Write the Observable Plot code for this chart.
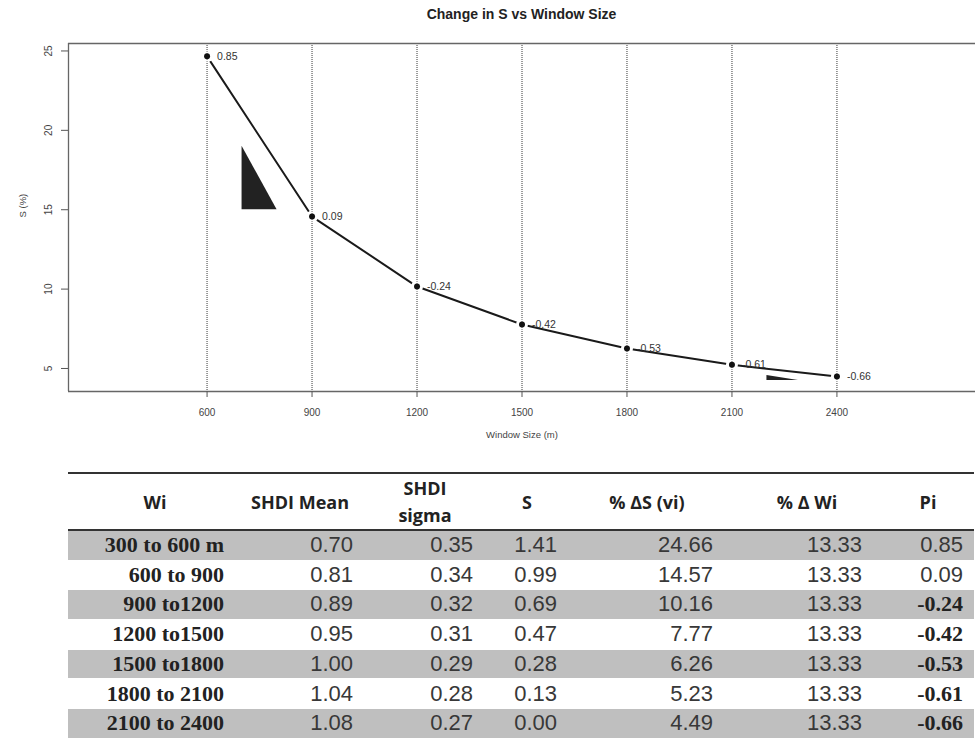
<!DOCTYPE html>
<html>
<head>
<meta charset="utf-8">
<script src="https://cdn.jsdelivr.net/npm/d3@7"></script>
<script src="https://cdn.jsdelivr.net/npm/@observablehq/plot@0.6"></script>
<style>
  html, body { margin: 0; padding: 0; background: #fff; }
  #wrap { position: relative; width: 975px; height: 739px; overflow: hidden; background: #fff; }
  #title { position: absolute; top: 6px; left: 0; width: 1043px; text-align: center;
           font: bold 14px "Liberation Sans", Arial, sans-serif; color: #222; }
  #chart { position: absolute; top: 0; left: 0; }
  #table { position: absolute; left: 68px; top: 472px; width: 906px; height: 270px; }
  .rule { position: absolute; left: 0; width: 906px; height: 2px; background: #333; }
  .row { position: absolute; left: 0; width: 906px; }
  .cell { position: absolute; white-space: nowrap; }
  .hdr { position: absolute; text-align: center; font: bold 18px "Open Sans", sans-serif; color: #222; line-height: 27px; }
  .num { font: 22px "Liberation Sans", Arial, sans-serif; color: #383838; }
  .ser { font: bold 22px "Liberation Serif", "Times New Roman", serif; color: #222; }
</style>
</head>
<body>
<div id="wrap">
  <div id="chart"></div>
  <div id="title">Change in S vs Window Size</div>
  <div id="table"></div>
</div>
<script>
// ---- data ----
const windowSizes = [600, 900, 1200, 1500, 1800, 2100, 2400];
const deltaS = [24.66, 14.57, 10.16, 7.77, 6.26, 5.23, 4.49];
const piValues = [0.85, 0.09, -0.24, -0.42, -0.53, -0.61, -0.66];
const yTicks = [5, 10, 15, 20, 25];

const wiLabels = ["300 to 600 m", "600 to 900", "900 to1200", "1200 to1500", "1500 to1800", "1800 to 2100", "2100 to 2400"];
const shdiMean = [0.70, 0.81, 0.89, 0.95, 1.00, 1.04, 1.08];
const shdiSigma = [0.35, 0.34, 0.32, 0.31, 0.29, 0.28, 0.27];
const sValues = [1.41, 0.99, 0.69, 0.47, 0.28, 0.13, 0.00];
const deltaWi = [13.33, 13.33, 13.33, 13.33, 13.33, 13.33, 13.33];
const headers = ["Wi", "SHDI Mean", "SHDI\nsigma", "S", "% ΔS (vi)", "% Δ Wi", "Pi"];

// slope triangles [x, yBase, yTop]
const tri1X = [700, 800], tri1Base = [15, 15], tri1Top = [19, 15];
const tri2X = [2200, 2290], tri2Base = [4.24, 4.24], tri2Top = [4.56, 4.24];

const pts = windowSizes.map((x, i) => ({x, y: deltaS[i], label: piValues[i].toFixed(2)}));
const tri1 = tri1X.map((x, i) => ({x, y1: tri1Base[i], y2: tri1Top[i]}));
const tri2 = tri2X.map((x, i) => ({x, y1: tri2Base[i], y2: tri2Top[i]}));

const xDom = [204, 2796], yDom = [3.55, 25.47];
const grid = "#7a7a7a";

const chart = Plot.plot({
  width: 975, height: 450,
  marginLeft: 68, marginRight: 0, marginTop: 43, marginBottom: 59,
  x: {domain: xDom},
  y: {domain: yDom},
  style: {fontFamily: "'Liberation Sans', Arial, sans-serif", fontSize: "10px", color: "#444", background: "transparent"},
  marks: [
    Plot.ruleX(windowSizes, {stroke: grid, strokeDasharray: "1,1", strokeWidth: 1}),
    Plot.line(pts, {x: "x", y: "y", stroke: "#1a1a1a", strokeWidth: 2}),
    Plot.dot(pts, {x: "x", y: "y", r: 6, fill: "white", stroke: null}),
    Plot.ruleX(windowSizes, {stroke: grid, strokeDasharray: "1,1", strokeWidth: 1}),
    Plot.dot(pts, {x: "x", y: "y", r: 3, fill: "#111", stroke: null}),
    Plot.text(pts, {x: "x", y: "y", text: "label", dx: 10, textAnchor: "start", fontSize: 10.5, fill: "#333"}),
    Plot.areaY(tri1, {x: "x", y1: "y1", y2: "y2", fill: "#222"}),
    Plot.areaY(tri2, {x: "x", y1: "y1", y2: "y2", fill: "#222"}),
    Plot.ruleY([yDom[0], yDom[1]], {stroke: "#666", strokeWidth: 1.3}),
    Plot.ruleX([xDom[0]], {stroke: "#666", strokeWidth: 1.3}),
    Plot.axisX({ticks: windowSizes, tickSize: 6, tickPadding: 11, label: null, stroke: "#555", fill: "#444", tickFormat: d => String(d)}),
    Plot.axisY({ticks: yTicks, tickSize: 7, label: null, stroke: "#555", tickFormat: () => ""}),
    Plot.text(yTicks, {y: d => d, text: d => String(d), frameAnchor: "left", dx: -20, rotate: -90, textAnchor: "middle", lineAnchor: "middle", fill: "#444", fontSize: 10}),
    Plot.text(["Window Size (m)"], {frameAnchor: "bottom", dy: 46, fill: "#444", fontSize: 9.5}),
    Plot.text(["S (%)"], {frameAnchor: "left", dx: -46, rotate: -90, fill: "#444", fontSize: 9.5})
  ]
});
document.getElementById("chart").appendChild(chart);

// ---- table ----
const tbl = document.getElementById("table");
const L = 68;
const hdrCenters = [155, 300, 425, 527, 647, 807, 928];
const valRights = [224, 353, 473, 557, 713, 862, 963];
const rowTop = 59, rowH = 29.7;

function add(cls, text, style) {
  const d = document.createElement("div");
  d.className = cls;
  d.textContent = text;
  Object.assign(d.style, style);
  tbl.appendChild(d);
  return d;
}
add("rule", "", {top: "0px"});
add("rule", "", {top: "57px"});
headers.forEach((h, j) => {
  const lines = h.split("\n");
  const w = 160;
  const d = add("hdr", "", {left: (hdrCenters[j] - L - w / 2) + "px", width: w + "px",
    top: (lines.length > 1 ? 3 : 17) + "px"});
  d.innerHTML = lines.join("<br>");
});
const cols = [
  {vals: wiLabels, cls: "ser", fmt: v => v},
  {vals: shdiMean, cls: "num", fmt: v => v.toFixed(2)},
  {vals: shdiSigma, cls: "num", fmt: v => v.toFixed(2)},
  {vals: sValues, cls: "num", fmt: v => v.toFixed(2)},
  {vals: deltaS, cls: "num", fmt: v => v.toFixed(2)},
  {vals: deltaWi, cls: "num", fmt: v => v.toFixed(2)},
  {vals: piValues, cls: v => v < 0 ? "ser" : "num", fmt: v => v.toFixed(2)}
];
wiLabels.forEach((_, i) => {
  const top = rowTop + i * rowH;
  add("row", "", {top: top + "px", height: (rowH - 1) + "px",
    background: i % 2 === 0 ? "#bfbfbf" : "#ffffff"});
  cols.forEach((c, j) => {
    const v = c.vals[i];
    const cls = typeof c.cls === "function" ? c.cls(v) : c.cls;
    add("cell " + cls, c.fmt(v), {right: (L + 906 - valRights[j]) + "px", top: top + "px",
      lineHeight: (rowH - 1) + "px"});
  });
});
</script>
</body>
</html>
